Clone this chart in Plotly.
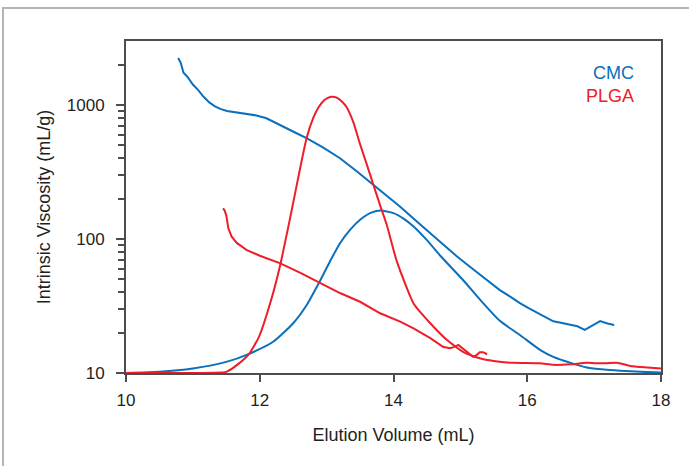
import plotly.graph_objects as go

# CMC intrinsic viscosity curve
cmc_visc_x = [10.78, 10.82, 10.86, 10.92, 11.0, 11.08, 11.16, 11.25, 11.33, 11.42, 11.51, 11.65, 11.8, 11.95,
              12.1, 12.25, 12.4, 12.55, 12.7, 12.95, 13.2, 13.45, 13.7, 13.9, 14.1, 14.4, 14.7, 14.95,
              15.2, 15.4, 15.59, 15.75, 15.89, 16.02, 16.14, 16.27, 16.39, 16.52, 16.64, 16.75, 16.86,
              16.97, 17.09, 17.2, 17.3]
cmc_visc_y = [2240, 2050, 1740, 1620, 1420, 1290, 1150, 1040, 975, 930, 900, 880, 865, 835,
              795, 735, 670, 615, 565, 480, 400, 320, 253, 210, 174, 128, 95, 74,
              59, 49, 41.5, 37, 33.2, 30.5, 28.2, 26.0, 24.3, 23.6, 22.8, 22.3, 21.0,
              22.5, 24.4, 23.4, 22.8]

# CMC concentration peak
cmc_peak_x = [10.0, 10.5, 11.0, 11.5, 11.84, 12.2, 12.5, 12.7, 12.88, 13.05, 13.2, 13.35, 13.5, 13.65,
              13.8, 14.0, 14.15, 14.3, 14.5, 14.7, 15.04, 15.3, 15.59, 15.89, 16.19, 16.39, 16.65,
              16.89, 17.15, 17.39, 17.7, 18.0]
cmc_peak_y = [10.0, 10.2, 10.8, 12.1, 13.9, 17.1, 23.5, 32, 46.5, 68, 93, 117, 139, 156,
              163, 156, 142, 124, 98, 75, 49.4, 35, 24.5, 19.2, 14.9, 13.2, 11.9,
              11.0, 10.6, 10.4, 10.2, 10.1]

# PLGA concentration peak
plga_peak_x = [10.0, 10.5, 11.0, 11.3, 11.5, 11.69, 11.84, 11.99, 12.17, 12.3, 12.45, 12.6, 12.7, 12.8,
               12.88, 12.96, 13.02, 13.08, 13.15, 13.22, 13.3, 13.4, 13.5, 13.6, 13.7, 13.8, 13.9,
               14.05, 14.3, 14.55, 14.8, 15.04, 15.29, 15.5, 15.79, 16.19, 16.39, 16.65, 16.89,
               17.1, 17.34, 17.54, 17.8, 18.0]
plga_peak_y = [10.0, 10.0, 10.0, 10.05, 10.2, 11.8, 13.9, 18.7, 35, 62, 140, 330, 564, 800,
               960, 1080, 1130, 1150, 1135, 1070, 960, 740, 510, 360, 253, 178, 127,
               68, 33, 23.5, 17.6, 14.4, 12.9, 12.3, 11.9, 11.8, 11.5, 11.6, 11.9,
               11.8, 11.9, 11.3, 11.0, 10.8]

# PLGA intrinsic viscosity curve
plga_visc_x = [11.45, 11.47, 11.5, 11.53, 11.58, 11.66, 11.73, 11.8, 12.0, 12.3, 12.6, 12.9, 13.2,
               13.5, 13.8, 14.1, 14.3, 14.55, 14.74, 14.84, 14.9, 14.97, 15.05, 15.12, 15.19, 15.24,
               15.29, 15.34, 15.4]
plga_visc_y = [169, 165, 150, 120, 104, 93, 88, 83, 75, 66, 56, 46.7, 39.5,
               34, 27.9, 24.2, 21.5, 18.2, 15.7, 15.3, 15.6, 16.2, 15.0, 14.0, 13.2, 13.6,
               14.3, 14.3, 13.8]

series_names = ["CMC", "PLGA"]
blue = "#0a70bd"
red = "#ee1d27"
text_color = "#231f20"
axis_color = "#4d4d4d"

fig = go.Figure()
fig.add_trace(go.Scatter(x=cmc_visc_x, y=cmc_visc_y, mode="lines",
                         line=dict(color=blue, width=2), showlegend=False))
fig.add_trace(go.Scatter(x=cmc_peak_x, y=cmc_peak_y, mode="lines",
                         line=dict(color=blue, width=2, shape="spline", smoothing=0.6), showlegend=False))
fig.add_trace(go.Scatter(x=plga_peak_x, y=plga_peak_y, mode="lines",
                         line=dict(color=red, width=2, shape="spline", smoothing=0.5), showlegend=False))
fig.add_trace(go.Scatter(x=plga_visc_x, y=plga_visc_y, mode="lines",
                         line=dict(color=red, width=2), showlegend=False))

font_family = "Liberation Sans, Arial, sans-serif"

fig.update_layout(
    width=689, height=466,
    margin=dict(l=126, r=28, t=41, b=93),
    paper_bgcolor="white", plot_bgcolor="white",
    font=dict(family=font_family, size=16, color=text_color),
    xaxis=dict(
        range=[10, 18], tickvals=[10, 12, 14, 16, 18],
        ticks="outside", ticklen=7, tickwidth=1.5, tickcolor=axis_color,
        showline=True, linecolor=axis_color, linewidth=2, mirror=True,
        showgrid=False, zeroline=False,
        ticklabelstandoff=4,
        title=dict(text="Elution Volume (mL)", standoff=19,
                   font=dict(family=font_family, size=18, color=text_color)),
        tickfont=dict(family=font_family, size=17, color=text_color),
    ),
    yaxis=dict(
        type="log", range=[1, 3.477],
        tickvals=[10, 100, 1000], ticktext=["10", "100", "1000"],
        ticks="outside", ticklen=8, tickwidth=1.5, tickcolor=axis_color,
        minor=dict(tickvals=[20, 30, 40, 50, 60, 70, 80, 90,
                             200, 300, 400, 500, 600, 700, 800, 900, 2000],
                   ticks="outside", ticklen=6, tickwidth=1.5, tickcolor=axis_color, showgrid=False),
        showline=True, linecolor=axis_color, linewidth=2, mirror=True,
        showgrid=False, zeroline=False,
        ticklabelstandoff=8,
        title=dict(text="Intrinsic Viscosity (mL/g)", standoff=11,
                   font=dict(family=font_family, size=18, color=text_color)),
        tickfont=dict(family=font_family, size=17, color=text_color),
    ),
    shapes=[dict(type="rect", xref="paper", yref="paper",
                 x0=-123 / 535, x1=1.2, y0=-0.4, y1=1 + 33 / 332,
                 line=dict(color="#b5b5b5", width=2), fillcolor="rgba(0,0,0,0)", layer="below")],
    annotations=[
        dict(text=series_names[0], xref="paper", yref="paper", x=0.953, y=0.905,
             xanchor="right", yanchor="middle", showarrow=False,
             font=dict(family=font_family, color=blue, size=18)),
        dict(text=series_names[1], xref="paper", yref="paper", x=0.953, y=0.835,
             xanchor="right", yanchor="middle", showarrow=False,
             font=dict(family=font_family, color=red, size=18)),
    ],
)

fig.write_html("out.html", config={"displayModeBar": False},
               post_script="document.body.style.margin='0';")
